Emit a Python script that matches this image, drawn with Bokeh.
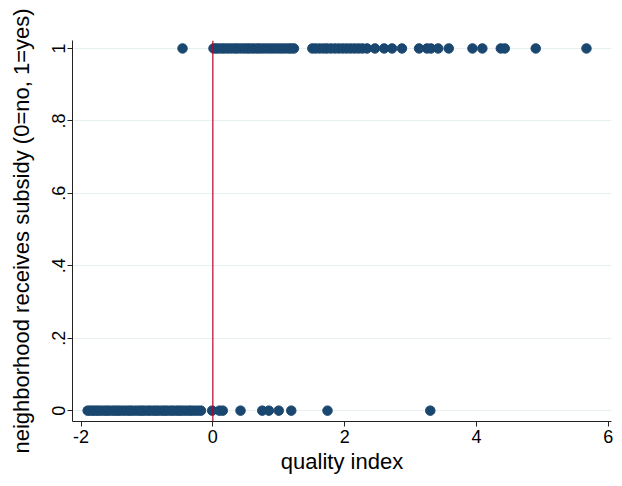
from bokeh.plotting import figure
from bokeh.models import FixedTicker, Span, Range1d
from bokeh.embed import file_html
from bokeh.resources import INLINE

# Data: quality index for neighborhoods receiving subsidy (1) and not (0)
x_yes = [-0.46,
         0.01, 0.05, 0.09, 0.14, 0.18, 0.23, 0.28, 0.33, 0.37, 0.42, 0.47, 0.52, 0.56,
         0.61, 0.66, 0.70, 0.75, 0.80, 0.85, 0.90, 0.95, 1.00, 1.05, 1.10, 1.15, 1.19, 1.23,
         1.51, 1.56, 1.62, 1.68, 1.73, 1.79, 1.85, 1.91, 1.97, 2.03, 2.09, 2.15, 2.21, 2.27, 2.34,
         2.46, 2.60, 2.72, 2.87, 3.13, 3.25, 3.31, 3.42, 3.58, 3.94, 4.09, 4.37, 4.43, 4.90, 5.67]
x_no = [-1.90, -1.86, -1.82, -1.78, -1.74, -1.70, -1.65, -1.61, -1.57, -1.52, -1.48, -1.44,
        -1.40, -1.35, -1.30, -1.26, -1.22, -1.17, -1.12, -1.08, -1.04, -0.99, -0.95, -0.90,
        -0.86, -0.82, -0.77, -0.73, -0.69, -0.64, -0.60, -0.55, -0.51, -0.47, -0.42, -0.37,
        -0.33, -0.28, -0.23, -0.18,
        -0.01, 0.10, 0.15, 0.42, 0.75, 0.85, 1.00, 1.19, 1.74, 3.30]
y_yes = [1] * len(x_yes)
y_no = [0] * len(x_no)

x_ticks = [-2, 0, 2, 4, 6]
x_tick_labels = ["-2", "0", "2", "4", "6"]
y_ticks = [0, 0.2, 0.4, 0.6, 0.8, 1]
y_tick_labels = ["0", ".2", ".4", ".6", ".8", "1"]
cutoff = 0

FONT = "Liberation Sans"
DOT = "#1a476f"

p = figure(width=614, height=478, output_backend="svg", toolbar_location=None,
           x_range=Range1d(-2.13, 6.05), y_range=Range1d(-0.03, 1.022),
           min_border_left=72, min_border_right=3, min_border_top=40, min_border_bottom=57)
p.outline_line_color = None
p.background_fill_color = "white"
p.border_fill_color = "white"

p.scatter(x_yes, y_yes, size=9.5, color=DOT, line_color=DOT)
p.scatter(x_no, y_no, size=9.5, color=DOT, line_color=DOT)

p.add_layout(Span(location=cutoff, dimension="height", line_color="#b8002a", line_width=1.2))

p.xgrid.grid_line_color = None
p.ygrid.grid_line_color = "#e8eff1"
p.ygrid.grid_line_width = 1

p.xaxis.ticker = FixedTicker(ticks=x_ticks)
p.xaxis.major_label_overrides = {t: l for t, l in zip(x_ticks, x_tick_labels)}
p.yaxis.ticker = FixedTicker(ticks=y_ticks)
p.yaxis.major_label_overrides = {t: l for t, l in zip(y_ticks, y_tick_labels)}
p.yaxis.major_label_orientation = "vertical"

for ax in (p.xaxis[0], p.yaxis[0]):
    ax.axis_line_color = "#222222"
    ax.major_tick_line_color = "#222222"
    ax.major_tick_in = 0
    ax.major_tick_out = 5
    ax.minor_tick_line_color = None
    ax.major_label_text_font = FONT
    ax.major_label_text_font_size = "18px"
    ax.major_label_text_color = "black"
    ax.axis_label_text_font = FONT
    ax.axis_label_text_font_size = "22px"
    ax.axis_label_text_font_style = "normal"
    ax.axis_label_text_color = "black"

p.xaxis.axis_label = "quality index"
p.yaxis.axis_label = "neighborhood receives subsidy (0=no, 1=yes)"
p.xaxis.major_label_standoff = 3
p.yaxis.major_label_standoff = 2
p.xaxis.axis_label_standoff = 3
p.yaxis.axis_label_standoff = 16

open("out.html", "w").write(file_html(p, INLINE))
